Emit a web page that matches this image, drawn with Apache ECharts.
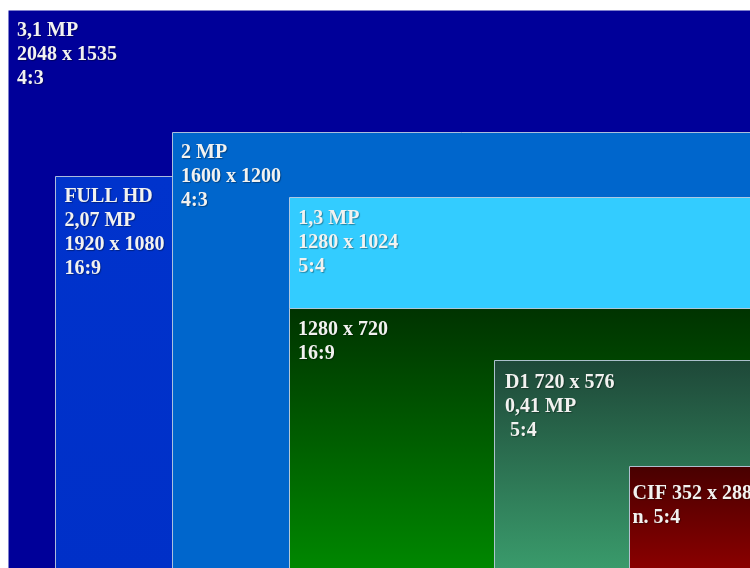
<!DOCTYPE html>
<html><head><meta charset="utf-8">
<script src="https://cdn.jsdelivr.net/npm/echarts@6/dist/echarts.min.js"></script>
<style>html,body{margin:0;padding:0;background:#fff}#c{width:750px;height:568px}</style>
</head><body><div id="c"></div>
<script>
// Data (pixel resolutions)
const names = ['3,1 MP', 'FULL HD', '2 MP', '1,3 MP', 'HD 720', 'D1', 'CIF'];
const widths = [2048, 1920, 1600, 1280, 1280, 720, 352];
const heights = [1535, 1080, 1200, 1024, 720, 576, 288];
const labels = [
  '3,1 MP\n2048 x 1535\n4:3',
  'FULL HD\n2,07 MP\n1920 x 1080\n16:9',
  '2 MP\n1600 x 1200\n4:3',
  '1,3 MP\n1280 x 1024\n5:4',
  '1280 x 720\n16:9',
  'D1 720 x 576\n0,41 MP\n 5:4',
  'CIF 352 x 288\nn. 5:4'
];
// Styles
const fills = [
  ['#000099', '#000099'],
  ['#0033cc', '#0030c8'],
  ['#0066cc', '#0066cc'],
  ['#33ccff', '#33ccff'],
  ['#003300', '#008800'],
  ['#1e4838', '#3a9c6c'],
  ['#480000', '#8c0000']
];
const textOffsets = [[9, 8.7], [9.4, 9], [9, 8.8], [9.3, 10], [9, 10], [11, 10.5], [3.5, 16]];

const data = widths.map((w, i) => [w, heights[i], i]);

const chart = echarts.init(document.getElementById('c'), null, {renderer: 'canvas'});
chart.setOption({
  backgroundColor: '#ffffff',
  animation: false,
  grid: {left: 0, right: 0, top: 0, bottom: 0},
  xAxis: {type: 'value', inverse: true, min: 21.85, max: 2069.85, show: false},
  yAxis: {type: 'value', min: 8.2, max: 1561.4, show: false},
  series: [{
    type: 'custom',
    clip: false,
    data: data,
    renderItem: function (params, api) {
      const i = api.value(2);
      const p0 = api.coord([api.value(0), api.value(1)]);
      const p1 = api.coord([0, 0]);
      const x0 = Math.round(p0[0]), y0 = Math.round(p0[1]);
      const f = fills[i];
      return {
        type: 'group',
        children: [{
          type: 'rect',
          shape: {x: x0 + 0.5, y: y0 + 0.5, width: p1[0] - x0, height: p1[1] - y0},
          style: {
            fill: new echarts.graphic.LinearGradient(0, 0, 0, 1, [
              {offset: 0, color: f[0]}, {offset: 1, color: f[1]}
            ]),
            stroke: i === 0 ? null : 'rgba(190,205,225,0.9)',
            lineWidth: 1
          }
        }, {
          type: 'text',
          style: {
            text: labels[i],
            x: x0 + textOffsets[i][0],
            y: y0 + textOffsets[i][1],
            fill: '#f2f2f0',
            font: 'bold 20px "Liberation Serif", "DejaVu Serif", serif',
            lineHeight: 24,
            verticalAlign: 'top',
            align: 'left',
            textShadowColor: 'rgba(0,0,0,0.35)',
            textShadowBlur: 1,
            textShadowOffsetX: 1,
            textShadowOffsetY: 1
          }
        }]
      };
    }
  }]
});
</script></body></html>
